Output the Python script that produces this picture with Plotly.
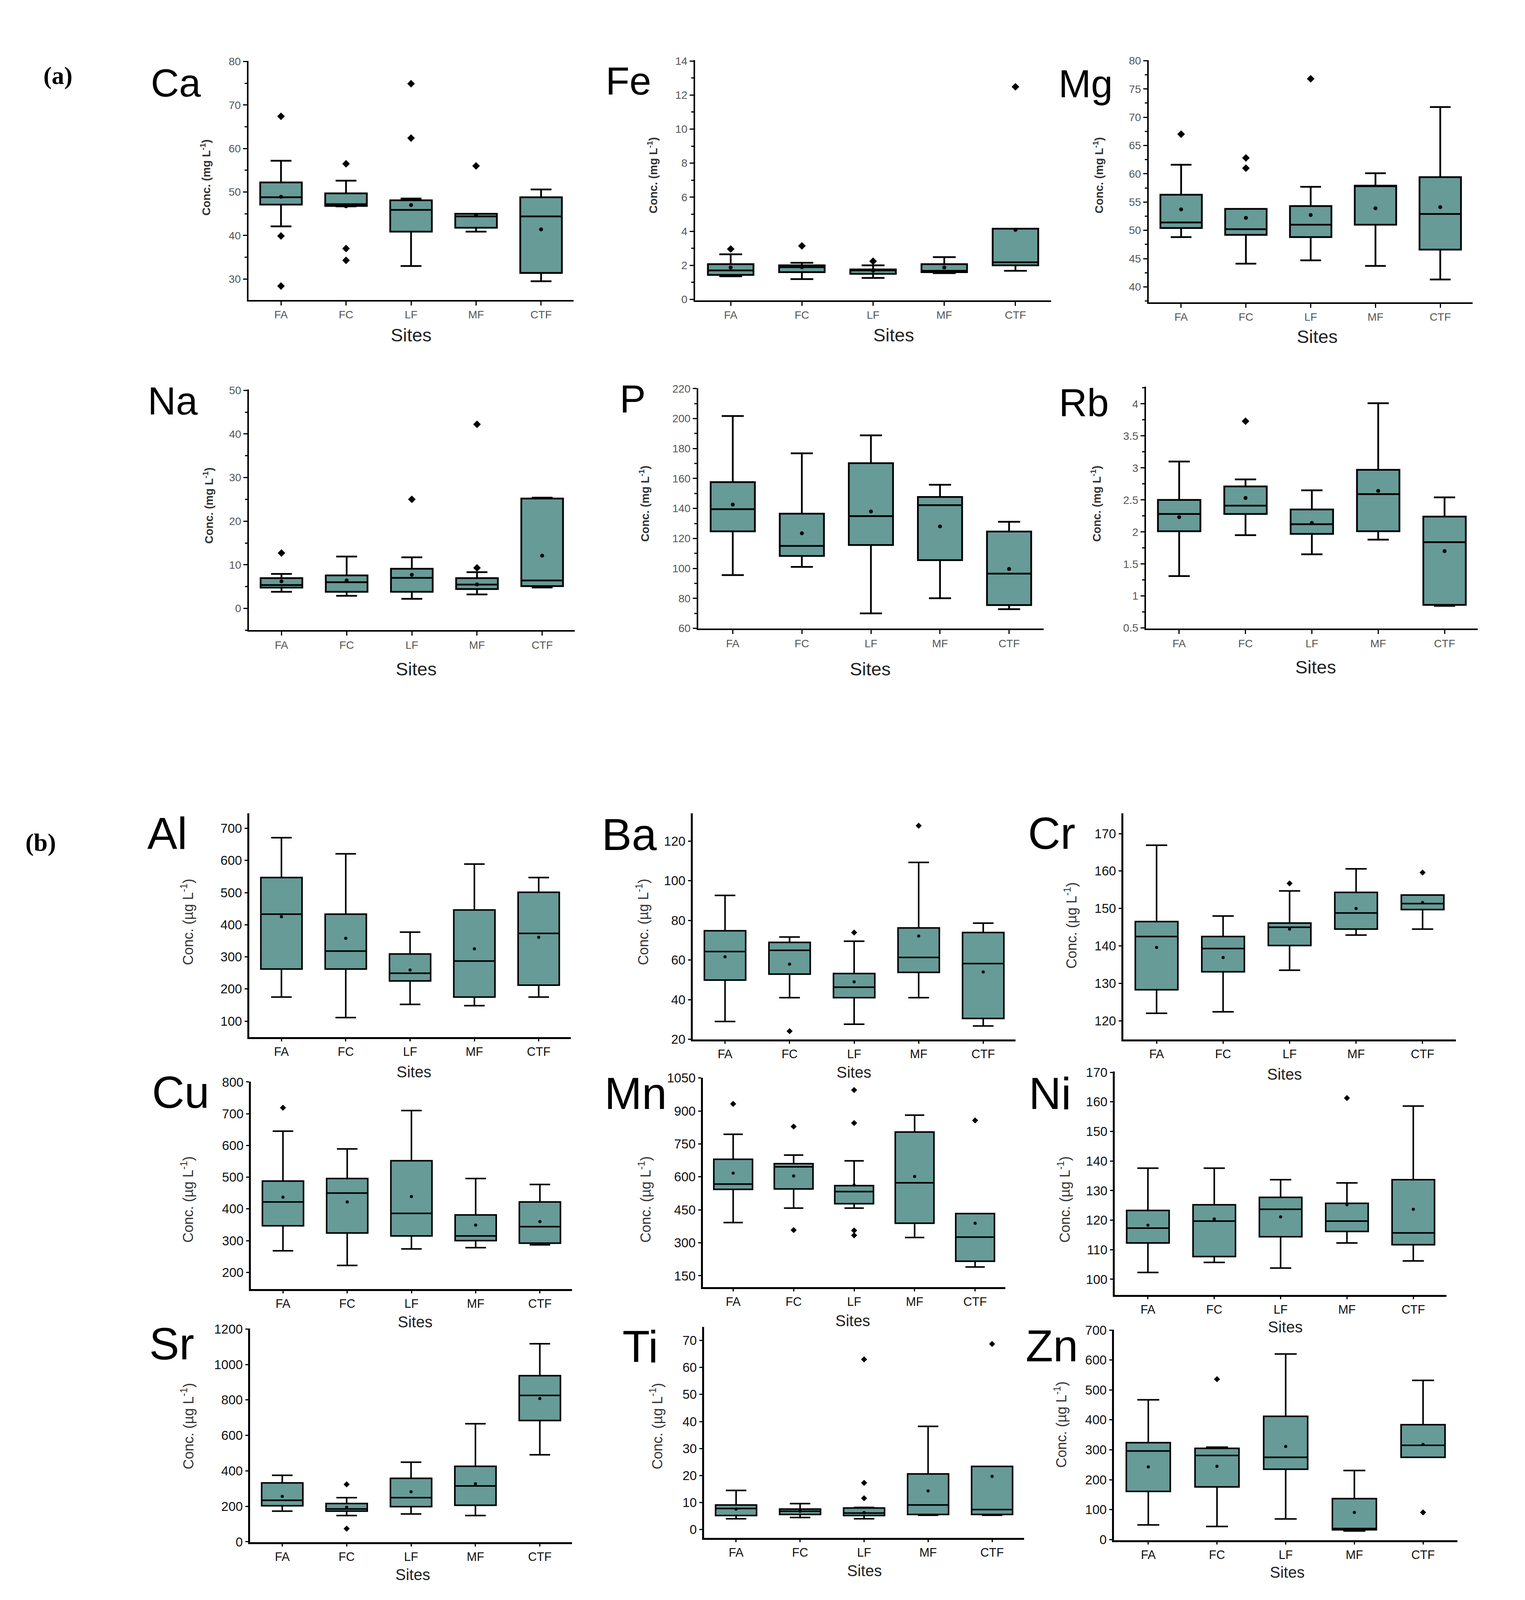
import plotly.graph_objects as go

# reference page size (positions below are given in these pixels)
REF_W, REF_H = 3903, 4960
# the browser viewport actually available is 3903 x 4096, so the figure is drawn at that size
FIG_W, FIG_H = 3903, 4096

SITES = ["FA", "FC", "LF", "MF", "CTF"]

# ---- (a) major elements, mg L-1 ----
CA_LOW = [42.1, 46.7, 33.0, 40.9, 29.5]
CA_Q1 = [47.1, 46.8, 40.9, 41.8, 31.4]
CA_MED = [48.8, 47.2, 45.9, 44.4, 44.4]
CA_Q3 = [52.2, 49.7, 48.1, 45.0, 48.8]
CA_HIGH = [57.2, 52.6, 48.5, 45.0, 50.6]
CA_MEAN = [48.9, 46.7, 47.0, 44.6, 41.4]
CA_OUT_SITE = ["FA", "FA", "FA", "FC", "FC", "FC", "LF", "LF", "MF"]
CA_OUT_VAL = [67.4, 39.9, 28.4, 56.5, 37.0, 34.3, 74.9, 62.4, 56.0]

FE_LOW = [1.36, 1.19, 1.26, 1.54, 1.68]
FE_Q1 = [1.44, 1.60, 1.50, 1.60, 2.00]
FE_MED = [1.70, 1.89, 1.70, 1.68, 2.18]
FE_Q3 = [2.07, 2.00, 1.76, 2.07, 4.15]
FE_HIGH = [2.65, 2.15, 2.00, 2.48, 4.15]
FE_MEAN = [1.87, 1.89, 1.68, 1.87, 4.08]
FE_OUT_SITE = ["FA", "FC", "LF", "CTF"]
FE_OUT_VAL = [2.96, 3.14, 2.24, 12.48]

MG_LOW = [48.8, 44.1, 44.7, 43.7, 41.3]
MG_Q1 = [50.4, 49.2, 48.8, 51.0, 46.6]
MG_MED = [51.4, 50.2, 51.0, 57.8, 52.9]
MG_Q3 = [56.3, 53.8, 54.3, 57.9, 59.4]
MG_HIGH = [61.6, 53.8, 57.7, 60.1, 71.8]
MG_MEAN = [53.7, 52.2, 52.7, 53.9, 54.1]
MG_OUT_SITE = ["FA", "FC", "FC", "LF"]
MG_OUT_VAL = [67.0, 62.8, 61.0, 76.8]

NA_LOW = [3.8, 2.9, 2.2, 3.2, 4.8]
NA_Q1 = [4.76, 3.8, 3.8, 4.43, 5.1]
NA_MED = [5.36, 6.0, 7.0, 5.46, 6.4]
NA_Q3 = [6.95, 7.56, 9.1, 6.95, 25.2]
NA_HIGH = [7.9, 11.9, 11.7, 8.3, 25.4]
NA_MEAN = [6.2, 6.4, 7.7, 5.5, 12.1]
NA_OUT_SITE = ["FA", "LF", "MF", "MF"]
NA_OUT_VAL = [12.7, 25.0, 9.3, 42.2]

P_LOW = [95.5, 101.0, 70.0, 80.1, 72.8]
P_Q1 = [124.7, 108.3, 115.6, 105.5, 75.5]
P_MED = [139.5, 115.0, 134.9, 142.2, 96.5]
P_Q3 = [157.6, 136.5, 170.2, 147.7, 124.6]
P_HIGH = [201.7, 176.8, 188.8, 155.8, 131.1]
P_MEAN = [142.6, 123.4, 138.0, 128.0, 99.6]
P_OUT_SITE = []
P_OUT_VAL = []

RB_LOW = [1.31, 1.95, 1.65, 1.88, 0.845]
RB_Q1 = [2.01, 2.28, 1.97, 2.01, 0.86]
RB_MED = [2.28, 2.41, 2.12, 2.59, 1.84]
RB_Q3 = [2.50, 2.71, 2.35, 2.97, 2.24]
RB_HIGH = [3.10, 2.82, 2.65, 4.01, 2.54]
RB_MEAN = [2.23, 2.53, 2.14, 2.64, 1.70]
RB_OUT_SITE = ["FC"]
RB_OUT_VAL = [3.73]

# ---- (b) trace elements, ug L-1 ----
AL_LOW = [175, 111, 152, 148, 175]
AL_Q1 = [262, 262, 225, 175, 212]
AL_MED = [433, 318, 249, 287, 373]
AL_Q3 = [547, 433, 309, 446, 501]
AL_HIGH = [671, 621, 377, 589, 547]
AL_MEAN = [425, 358, 259, 325, 361]
AL_OUT_SITE = []
AL_OUT_VAL = []

BA_LOW = [29.0, 41.0, 27.6, 41.0, 26.7]
BA_Q1 = [49.9, 52.9, 41.0, 53.8, 30.5]
BA_MED = [64.3, 64.9, 46.3, 61.3, 58.2]
BA_Q3 = [74.8, 68.9, 53.2, 76.2, 73.9]
BA_HIGH = [92.6, 71.6, 69.5, 109.3, 78.6]
BA_MEAN = [61.6, 57.9, 49.0, 72.1, 54.0]
BA_OUT_SITE = ["FC", "LF", "MF"]
BA_OUT_VAL = [24.1, 73.9, 127.8]

CR_LOW = [122.0, 122.4, 133.5, 142.9, 144.5]
CR_Q1 = [128.3, 133.1, 140.1, 144.5, 149.7]
CR_MED = [142.5, 139.3, 145.0, 148.8, 151.3]
CR_Q3 = [146.5, 142.5, 146.1, 154.3, 153.6]
CR_HIGH = [166.9, 148.0, 154.7, 160.6, 153.6]
CR_MEAN = [139.6, 136.9, 144.5, 150.0, 151.6]
CR_OUT_SITE = ["LF", "CTF"]
CR_OUT_VAL = [156.7, 159.6]

CU_LOW = [268, 222, 274, 278, 287]
CU_Q1 = [347, 324, 315, 300, 292]
CU_MED = [422, 450, 386, 315, 344]
CU_Q3 = [488, 496, 552, 381, 422]
CU_HIGH = [645, 589, 710, 496, 477]
CU_MEAN = [437, 422, 439, 349, 360]
CU_OUT_SITE = ["FA"]
CU_OUT_VAL = [719]

MN_LOW = [392, 458, 458, 324, 190]
MN_Q1 = [543, 545, 478, 389, 216]
MN_MED = [567, 646, 533, 573, 326]
MN_Q3 = [680, 660, 560, 804, 433]
MN_HIGH = [794, 699, 673, 881, 433]
MN_MEAN = [617, 604, 563, 602, 389]
MN_OUT_SITE = ["FA", "FC", "FC", "LF", "LF", "LF", "LF", "CTF"]
MN_OUT_VAL = [932, 829, 358, 995, 845, 356, 334, 857]

NI_LOW = [102.3, 105.7, 103.8, 112.3, 106.2]
NI_Q1 = [112.3, 107.7, 114.4, 116.2, 111.7]
NI_MED = [117.3, 119.7, 123.7, 119.7, 115.7]
NI_Q3 = [123.3, 125.2, 127.7, 125.7, 133.7]
NI_HIGH = [137.6, 137.6, 133.7, 132.6, 158.6]
NI_MEAN = [118.3, 120.4, 121.1, 125.2, 123.7]
NI_OUT_SITE = ["MF"]
NI_OUT_VAL = [161.3]

SR_LOW = [173, 148, 157, 148, 491]
SR_Q1 = [203, 173, 198, 206, 684]
SR_MED = [234, 185, 249, 315, 826]
SR_Q3 = [332, 216, 358, 426, 937]
SR_HIGH = [375, 249, 449, 666, 1117]
SR_MEAN = [256, 195, 282, 327, 808]
SR_OUT_SITE = ["FC", "FC"]
SR_OUT_VAL = [324, 74]

TI_LOW = [4.0, 4.5, 4.0, 5.3, 5.3]
TI_Q1 = [5.2, 5.6, 5.2, 5.6, 5.6]
TI_MED = [7.8, 6.8, 6.1, 9.1, 7.4]
TI_Q3 = [9.1, 7.6, 8.0, 20.6, 23.4]
TI_HIGH = [14.5, 9.6, 8.2, 38.2, 23.4]
TI_MEAN = [7.6, 6.8, 6.3, 14.3, 19.7]
TI_OUT_SITE = ["LF", "LF", "LF", "CTF"]
TI_OUT_VAL = [63.0, 17.3, 11.6, 68.7]

ZN_LOW = [49, 44, 69, 29, 275]
ZN_Q1 = [161, 176, 235, 33, 275]
ZN_MED = [296, 281, 275, 37, 315]
ZN_Q3 = [324, 305, 412, 137, 384]
ZN_HIGH = [467, 309, 620, 231, 532]
ZN_MEAN = [243, 245, 311, 91, 318]
ZN_OUT_SITE = ["FC", "CTF"]
ZN_OUT_VAL = [536, 91]

STATS = {
    "Ca": (CA_LOW, CA_Q1, CA_MED, CA_Q3, CA_HIGH, CA_MEAN, CA_OUT_SITE, CA_OUT_VAL),
    "Fe": (FE_LOW, FE_Q1, FE_MED, FE_Q3, FE_HIGH, FE_MEAN, FE_OUT_SITE, FE_OUT_VAL),
    "Mg": (MG_LOW, MG_Q1, MG_MED, MG_Q3, MG_HIGH, MG_MEAN, MG_OUT_SITE, MG_OUT_VAL),
    "Na": (NA_LOW, NA_Q1, NA_MED, NA_Q3, NA_HIGH, NA_MEAN, NA_OUT_SITE, NA_OUT_VAL),
    "P": (P_LOW, P_Q1, P_MED, P_Q3, P_HIGH, P_MEAN, P_OUT_SITE, P_OUT_VAL),
    "Rb": (RB_LOW, RB_Q1, RB_MED, RB_Q3, RB_HIGH, RB_MEAN, RB_OUT_SITE, RB_OUT_VAL),
    "Al": (AL_LOW, AL_Q1, AL_MED, AL_Q3, AL_HIGH, AL_MEAN, AL_OUT_SITE, AL_OUT_VAL),
    "Ba": (BA_LOW, BA_Q1, BA_MED, BA_Q3, BA_HIGH, BA_MEAN, BA_OUT_SITE, BA_OUT_VAL),
    "Cr": (CR_LOW, CR_Q1, CR_MED, CR_Q3, CR_HIGH, CR_MEAN, CR_OUT_SITE, CR_OUT_VAL),
    "Cu": (CU_LOW, CU_Q1, CU_MED, CU_Q3, CU_HIGH, CU_MEAN, CU_OUT_SITE, CU_OUT_VAL),
    "Mn": (MN_LOW, MN_Q1, MN_MED, MN_Q3, MN_HIGH, MN_MEAN, MN_OUT_SITE, MN_OUT_VAL),
    "Ni": (NI_LOW, NI_Q1, NI_MED, NI_Q3, NI_HIGH, NI_MEAN, NI_OUT_SITE, NI_OUT_VAL),
    "Sr": (SR_LOW, SR_Q1, SR_MED, SR_Q3, SR_HIGH, SR_MEAN, SR_OUT_SITE, SR_OUT_VAL),
    "Ti": (TI_LOW, TI_Q1, TI_MED, TI_Q3, TI_HIGH, TI_MEAN, TI_OUT_SITE, TI_OUT_VAL),
    "Zn": (ZN_LOW, ZN_Q1, ZN_MED, ZN_Q3, ZN_HIGH, ZN_MEAN, ZN_OUT_SITE, ZN_OUT_VAL),
}

# panel layout in reference pixels: axis box (left, right, top, bottom), y range, dtick, minor dtick,
# element label centre, "Sites" centre, y title centre
PANELS = [
    ("Ca", "a", (636, 1468, 169, 916), [25.2, 80.1], 10, 5, (450, 237), (1052, 1025), (526, 534)),
    ("Fe", "a", (1779, 2690, 166, 917), [-0.05, 14.05], 2, 1, (1608, 231), (2287, 1025), (1670, 527)),
    ("Mg", "a", (2940, 3769, 166, 923), [37.3, 80.1], 5, 2.5, (2778, 240), (3371, 1031), (2811, 527)),
    ("Na", "a", (637, 1471, 1196, 1949), [-5, 50.2], 10, 5, (442, 1232), (1065, 2070), (533, 1560)),
    ("P", "a", (1787, 2671, 1192, 1944), [59.8, 220.3], 20, 10, (1619, 1225), (2227, 2070), (1649, 1554)),
    ("Rb", "a", (2933, 3782, 1187, 1944), [0.49, 4.27], 0.5, 0.25, (2774, 1238), (3367, 2064), (2805, 1554)),
    ("Al", "b", (638, 1461, 2522, 3221), [50.8, 746.6], 100, None, (428, 2584), (1059, 3330), (479, 2862)),
    ("Ba", "b", (1773, 2599, 2522, 3229), [19.9, 134], 20, None, (1610, 2587), (2185, 3332), (1644, 2862)),
    ("Cr", "b", (2875, 3726, 2522, 3229), [115, 175.4], 10, None, (2691, 2584), (3287, 3338), (2740, 2873)),
    ("Cu", "b", (642, 1464, 3361, 4009), [148, 801], 100, None, (462, 3394), (1062, 4112), (479, 3730)),
    ("Mn", "b", (1799, 2573, 3348, 4003), [99, 1052], 150, None, (1627, 3397), (2182, 4108), (1650, 3730)),
    ("Ni", "b", (2853, 3702, 3329, 4028), [94.7, 170.3], 10, None, (2687, 3397), (3289, 4128), (2723, 3730)),
    ("Sr", "b", (640, 1464, 4133, 4801), [-2, 1203], 200, None, (439, 4181), (1056, 4902), (479, 4439)),
    ("Ti", "b", (1802, 2621, 4128, 4788), [-3.1, 75], 10, None, (1639, 4189), (2212, 4890), (1679, 4439)),
    ("Zn", "b", (2851, 3730, 4136, 4795), [-2, 702], 100, None, (2692, 4187), (3294, 4895), (2714, 4434)),
]

TEAL = "#679b97"
SANS = "Liberation Sans, Arial, sans-serif"
NARROW = "Liberation Sans Narrow, Arial Narrow, Liberation Sans, sans-serif"


def px(x):
    return x / REF_W


def py(y):
    return 1 - y / REF_H


fig = go.Figure()
annotations = []
layout_axes = {}

for i, (name, part, (x0, x1, yt, yb), yr, dt, mdt, lab, sxy, txy) in enumerate(PANELS, start=1):
    low, q1, med, q3, high, mean, out_s, out_v = STATS[name]
    xa, ya = ("x", "y") if i == 1 else (f"x{i}", f"y{i}")
    small = part == "b"
    lw = 4 if small else 4.5

    fig.add_trace(go.Box(
        x=SITES, q1=q1, median=med, q3=q3, lowerfence=low, upperfence=high,
        boxpoints=False, width=0.64, whiskerwidth=0.5,
        fillcolor=TEAL, line=dict(color="black", width=lw),
        xaxis=xa, yaxis=ya, hoverinfo="skip",
    ))
    fig.add_trace(go.Scatter(
        x=SITES, y=mean, mode="markers", xaxis=xa, yaxis=ya, hoverinfo="skip",
        marker=dict(color="black", size=8 if small else 10, symbol="circle"),
    ))
    if out_v:
        fig.add_trace(go.Scatter(
            x=out_s, y=out_v, mode="markers", xaxis=xa, yaxis=ya, hoverinfo="skip",
            marker=dict(color="black", size=12 if small else 15, symbol="diamond"),
        ))

    tick_col = "#111" if small else "#555"
    layout_axes[("xaxis" if i == 1 else f"xaxis{i}")] = dict(
        domain=[px(x0), px(x1)], anchor=ya, type="category",
        categoryorder="array", categoryarray=SITES, range=[-0.5, 4.5],
        showline=True, linecolor="black", linewidth=5 if small else 4,
        ticks="outside", ticklen=6 if small else 10, tickwidth=3, tickcolor="black",
        tickfont=dict(family=NARROW if small else SANS, size=31 if small else 28, color=tick_col),
        showgrid=False, zeroline=False, fixedrange=True,
    )
    yax = dict(
        domain=[py(yb), py(yt)], anchor=xa, range=yr, dtick=dt, tick0=0,
        showline=True, linecolor="black", linewidth=5 if small else 4,
        ticks="outside", ticklen=7 if small else 10, tickwidth=3, tickcolor="black",
        tickfont=dict(family=NARROW if small else SANS, size=33 if small else 28, color=tick_col),
        showgrid=False, zeroline=False, fixedrange=True,
    )
    if mdt:
        yax["minor"] = dict(ticks="outside", ticklen=6, tickwidth=3, tickcolor="black",
                            dtick=mdt, tick0=0, showgrid=False)
    layout_axes[("yaxis" if i == 1 else f"yaxis{i}")] = yax

    # element symbol
    annotations.append(dict(
        text=name, x=px(lab[0]), y=py(lab[1]), xref="paper", yref="paper",
        xanchor="center", yanchor="middle", showarrow=False,
        font=dict(family=NARROW if small else SANS, size=115 if small else 100, color="black"),
    ))
    # x title
    annotations.append(dict(
        text="Sites", x=px(sxy[0]), y=py(sxy[1]), xref="paper", yref="paper",
        xanchor="center", yanchor="middle", showarrow=False,
        font=dict(family=NARROW if small else SANS, size=40 if small else 47, color="#222"),
    ))
    # y title
    if small:
        ytxt = "Conc. (µg L<sup>-1</sup>)"
        yfont = dict(family=SANS, size=36, color="#333")
    else:
        ytxt = "<b>Conc. (mg L<sup>-1</sup>)</b>"
        yfont = dict(family=SANS, size=29, color="#333")
    annotations.append(dict(
        text=ytxt, x=px(txy[0]), y=py(txy[1]), xref="paper", yref="paper",
        xanchor="center", yanchor="middle", showarrow=False, textangle=-90,
        font=yfont,
    ))

# part labels
for txt, (lx, ly) in [("(a)", (148, 215)), ("(b)", (104, 2612))]:
    annotations.append(dict(
        text=f"<b>{txt}</b>", x=px(lx), y=py(ly), xref="paper", yref="paper",
        xanchor="center", yanchor="middle", showarrow=False,
        font=dict(family="Liberation Serif, Times New Roman, serif", size=64, color="black"),
    ))

fig.update_layout(
    width=FIG_W, height=FIG_H,
    margin=dict(l=0, r=0, t=0, b=0),
    paper_bgcolor="white", plot_bgcolor="white",
    showlegend=False,
    annotations=annotations,
    **layout_axes,
)

# drop the default page margin so the figure sits flush in the window
fig.write_html(
    "out.html",
    config={"displayModeBar": False},
    post_script="document.body.style.margin = '0'; document.body.style.overflow = 'hidden';",
)
